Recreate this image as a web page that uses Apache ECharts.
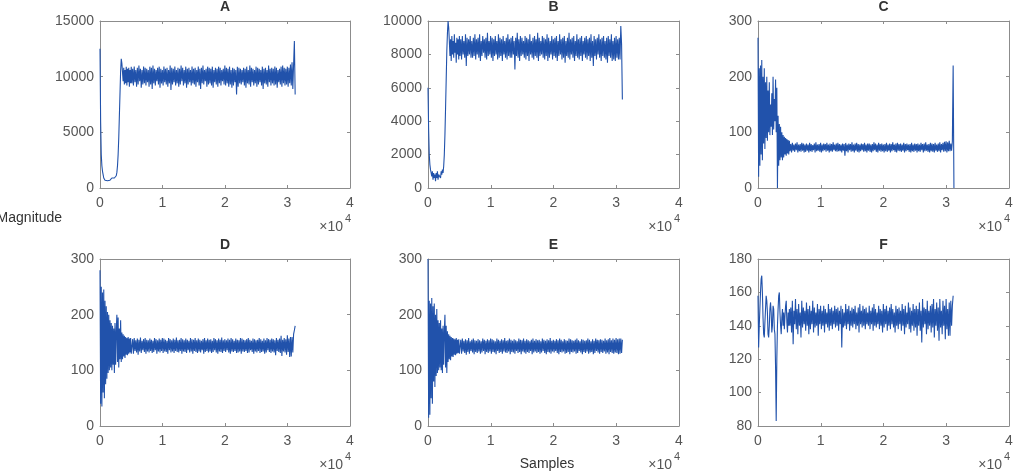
<!DOCTYPE html>
<html>
<head>
<meta charset="utf-8">
<script src="https://cdn.jsdelivr.net/npm/echarts@6/dist/echarts.min.js"></script>
<style>
html,body{margin:0;padding:0;background:#fff;}
#chart{width:1017px;height:471px;}
</style>
</head>
<body>
<div id="chart"></div>
<script>
// ---- data ----
// head: samples 0..5000 every 100
// band: lower/upper envelope of the noisy band, pairs from sample 5100 every 250 (lower, then upper 125 later)
// end: samples after the band, every 125
const panelTitles = ['A', 'B', 'C', 'D', 'E', 'F'];
const xTicks = [0, 1, 2, 3, 4];           // in units of 10^4 samples
const yTicksA = [0, 5000, 10000, 15000];
const yTicksB = [0, 2000, 4000, 6000, 8000, 10000];
const yTicksC = [0, 100, 200, 300];
const yTicksD = [0, 100, 200, 300];
const yTicksE = [0, 100, 200, 300];
const yTicksF = [80, 100, 120, 140, 160, 180];

const aHead = [12500,6000,3000,2000,1500,1200,900,800,700,650,
  750,600,650,800,700,600,700,650,800,900,
  850,950,1000,900,850,1000,1100,1400,2000,3000,
  4500,6500,8500,10500,11600,11200,10400,9600,10800,9300,
  10600,9400,10900,9200,10700,9500,10800,9100,10600,9400,
  10900];
const aLow = [9400,9200,9500,9100,9300,9600,9000,9300,9400,9200,
  9500,9100,9300,8900,9400,9200,9600,9300,9000,9400,
  9200,9500,9300,9100,9400,8800,9300,9500,9200,9400,
  9100,9300,9600,9200,9400,9000,9300,9500,9200,9400,
  9300,9100,9500,9200,8900,9400,9300,9600,9100,9300,
  9400,9200,9000,9500,9300,9100,9400,9200,9600,9300,
  9200,9400,9100,9300,9000,9200,9500,8400,9100,9400,
  9300,9500,9200,9000,9400,9300,9100,9500,9200,9400,
  9100,9300,9500,9200,8900,9400,9300,9100,9500,9200,
  9400,9200,9300,9000,9500,9300,9100,9400,9200,9300,
  9100,9400];
const aHigh = [10700,10900,10600,10800,11000,10700,10600,10900,10800,10700,
  10600,10900,10800,11000,10700,10600,10800,10900,10700,10600,
  10900,10700,10800,10600,11000,10800,10700,10900,10600,10800,
  10700,11000,10800,10600,10900,10700,10800,10600,10900,10700,
  10800,10600,10900,10700,10800,11000,10600,10700,10900,10800,
  10700,10900,10600,10800,10700,10900,10800,10600,10700,11000,
  10800,10700,10900,10600,10800,10700,10600,10900,10800,10700,
  10600,10800,10700,10900,10600,11000,10800,10700,10600,10900,
  10800,10700,10600,10900,10700,10800,10600,11000,10700,10800,
  10700,10900,10800,10600,10700,10900,11000,10800,10700,10900,
  10800,11100];
const aEnd = [9200,11300,8900,11100,13200,8400];

const bHead = [6000,3500,2000,1400,1100,900,700,1000,500,900,
  600,800,400,900,600,1000,500,800,700,900,
  600,1000,800,1100,900,1300,2000,3200,4800,6500,
  8200,9300,10000,9600,8800,7900,8900,7600,9100,8000,
  8800,7800,9200,8100,8700,7500,9000,8000,8900,7700,
  9100];
const bLow = [7900,7700,8000,7800,7300,7900,8000,7800,7800,7900,
  7700,8000,7800,7600,7900,8100,7800,7700,7900,8000,
  7800,7600,7900,8000,7700,7800,7900,7600,8000,7800,
  7700,7900,7800,7800,8000,7100,7900,7800,7600,7900,
  8000,7800,7700,7900,7600,8000,7800,7700,7900,7800,
  7600,7900,8000,7800,7700,7900,7600,7800,8000,7700,
  7900,7800,7600,7900,8000,7700,7800,7500,7900,7800,
  7700,8000,7800,7600,7900,7800,7700,7900,7600,8000,
  7800,7700,7900,7600,7800,7300,7900,7700,8000,7800,
  7600,7900,7800,7700,7500,7900,7800,7600,7700,7600,
  7800,7700];
const bHigh = [8900,9100,8800,9200,9000,8900,9100,8800,9000,9200,
  8900,9000,9200,8800,9100,8900,9000,9300,8800,9100,
  9000,8900,9100,8800,9200,9000,8900,9100,8800,9000,
  9200,8900,9000,9100,8800,9000,9300,8900,9100,9000,
  8800,9100,9000,8900,9200,8800,9000,9100,8900,9300,
  9000,8800,9100,9000,8900,9200,9000,8800,9100,8900,
  9000,9100,8800,9200,8900,9000,9100,8800,9000,9300,
  8900,9000,9100,8800,9200,8900,9000,9100,8800,9000,
  9100,8900,9000,9200,8800,9100,8900,9000,9200,8900,
  9000,9100,8800,9000,9100,8900,9200,8800,9000,9100,
  8900,9000];
const bEnd = [7700,9700,8600,5300];

const cHead = [270,20,215,40,220,60,230,50,200,80,
  215,70,190,90,200,85,175,100,190,95,
  150,110,170,95,200,105,160,120,195,100,
  180,0,130,40,115,50,110,55,100,50,
  95,55,92,60,90,58,88,62,86,60,
  85];
const cLow = [66,64,67,65,68,64,66,65,67,64,
  65,67,64,66,65,68,64,66,67,65,
  64,66,68,65,67,64,66,65,68,66,
  65,66,66,64,67,58,66,64,68,65,
  66,64,67,65,64,66,68,65,66,64,
  67,65,64,66,68,65,64,67,65,66,
  64,66,65,67,64,66,68,65,64,67,
  66,65,67,64,66,68,65,64,66,65,
  67,64,66,65,68,64,66,67,65,64,
  66,65,64,67,65,66,64,68,65,66,
  64,66];
const cHigh = [79,81,78,80,82,78,79,81,80,78,
  80,78,81,79,77,80,82,78,79,81,
  78,80,79,81,78,80,79,82,78,80,
  81,79,78,80,79,81,78,80,79,82,
  78,80,81,79,78,80,79,81,78,80,
  80,78,79,82,80,78,81,79,80,78,
  79,81,78,80,79,82,78,80,81,79,
  80,78,81,79,80,78,79,81,78,80,
  79,80,78,81,79,80,82,78,79,81,
  80,79,81,78,80,82,79,81,83,84,
  82,85];
const cEnd = [66,80,67,84,220,0];

const dHead = [280,40,250,35,240,60,245,50,225,75,
  215,85,205,95,200,100,190,105,185,100,
  180,110,175,95,185,110,170,200,115,195,
  105,175,120,190,115,168,120,165,125,162,
  122,160,128,158,127,160,130,157,132,158,
  130];
const dLow = [133,130,135,132,128,134,131,136,133,130,
  134,132,135,131,133,136,130,134,132,135,
  131,134,133,130,136,132,134,131,135,133,
  132,135,130,134,133,131,136,132,134,130,
  135,133,131,134,132,136,130,133,135,132,
  134,131,133,136,132,130,134,133,131,135,
  133,136,132,130,134,133,135,131,132,134,
  130,134,133,135,131,132,136,133,130,134,
  132,135,131,133,134,130,132,136,133,131,
  134,132,127,135,133,131,126,134,132,128,
  133,124];
const dHigh = [156,158,154,157,155,159,153,156,158,155,
  154,157,155,153,158,156,154,157,155,158,
  157,155,153,158,156,154,157,155,159,154,
  155,158,156,154,157,155,153,158,156,155,
  158,154,157,155,153,156,158,154,157,155,
  156,153,158,156,154,157,155,159,154,156,
  154,157,155,158,156,153,157,155,154,158,
  157,155,154,156,158,155,153,157,156,154,
  155,158,156,153,157,154,158,156,155,157,
  156,154,158,155,157,162,155,158,156,163,
  157,160];
const dEnd = [125,160,132,165,172,180];

const eHead = [300,15,225,20,220,50,230,40,215,80,
  220,70,200,90,210,95,190,100,185,105,
  190,100,175,95,180,110,170,200,105,180,
  95,170,115,165,120,162,118,160,125,158,
  124,157,128,156,127,158,130,155,131,156,
  130];
const eLow = [132,130,134,131,128,133,130,135,132,129,
  133,131,134,130,132,135,129,133,131,134,
  130,133,132,129,135,131,133,130,134,132,
  131,134,129,133,132,130,135,131,133,129,
  134,132,130,133,131,135,129,132,134,131,
  133,130,132,135,131,129,133,132,130,134,
  132,135,131,129,133,132,134,130,131,133,
  129,133,132,134,130,131,135,132,129,133,
  131,134,130,132,133,129,131,135,132,130,
  133,131,134,130,132,129,133,131,130,132,
  131,129];
const eHigh = [155,157,153,156,154,158,152,155,157,154,
  153,156,154,152,157,155,153,156,154,157,
  156,154,152,157,155,153,156,154,158,153,
  154,157,155,153,156,154,152,157,155,154,
  157,153,156,154,152,155,157,153,156,154,
  155,152,157,155,153,156,154,158,153,155,
  153,156,154,157,155,152,156,154,153,157,
  156,154,153,155,157,154,152,156,155,153,
  154,157,155,152,156,153,157,155,154,156,
  155,153,157,154,156,158,154,157,155,158,
  156,157];
const eEnd = [130,157,131,155];

const fHead = [158,127,140,150,160,168,170,160,145,135,
  133,142,150,158,155,148,135,133,140,150,
  154,148,136,140,152,150,138,135,115,83,
  120,140,150,158,160,148,140,135,145,150,
  140,148,138,146,152,155,142,136,148,140,
  150];
const fLow = [140,136,129,141,138,135,140,133,139,141,
  137,140,135,138,141,136,139,140,134,141,
  138,140,136,141,139,137,140,138,141,139,
  140,137,141,127,139,140,138,141,137,140,
  139,141,138,140,136,141,139,140,138,141,
  140,138,141,137,140,139,141,138,140,136,
  139,141,137,140,138,141,139,136,140,138,
  141,137,140,135,139,141,138,136,140,137,
  139,134,140,137,130,139,141,135,138,140,
  136,139,133,140,137,131,139,135,140,132,
  138,134];
const fHigh = [151,155,149,156,150,153,148,155,151,149,
  154,150,152,149,155,151,148,153,150,152,
  149,152,150,148,153,150,151,149,152,150,
  151,149,152,150,148,153,150,152,149,151,
  150,152,148,151,153,149,152,150,151,148,
  152,149,151,153,150,148,152,150,149,153,
  150,152,149,151,153,150,148,152,150,151,
  149,153,150,152,148,154,151,149,153,150,
  152,150,154,149,156,151,150,155,149,152,
  153,156,150,154,151,156,149,155,152,156,
  150,154];
const fEnd = [134,155,140,152,158];

// ---- build ----
const HEAD_STEP = 100, BAND_START = 5100, BAND_STEP = 250, END_STEP = 125;
function build(head, low, high, end) {
  const d = [];
  head.forEach((v, i) => d.push([i * HEAD_STEP, v]));
  low.forEach((v, k) => {
    d.push([BAND_START + k * BAND_STEP, v]);
    d.push([BAND_START + k * BAND_STEP + BAND_STEP / 2, high[k]]);
  });
  const endStart = BAND_START + low.length * BAND_STEP;
  end.forEach((v, j) => d.push([endStart + j * END_STEP, v]));
  return d;
}
const panels = [
  {data: build(aHead, aLow, aHigh, aEnd), ticks: yTicksA},
  {data: build(bHead, bLow, bHigh, bEnd), ticks: yTicksB},
  {data: build(cHead, cLow, cHigh, cEnd), ticks: yTicksC},
  {data: build(dHead, dLow, dHigh, dEnd), ticks: yTicksD},
  {data: build(eHead, eLow, eHigh, eEnd), ticks: yTicksE},
  {data: build(fHead, fLow, fHigh, fEnd), ticks: yTicksF}
];

const FONT = "'Liberation Sans', Arial, Helvetica, sans-serif";
const LINE = '#8c8c8c', TXT = '#555555', BLUE = '#2152ab';
const lefts = [100, 428, 758], widths = [250, 251, 251];
const tops = [21, 259], H = 167;

const grids = [], xAxes = [], yAxes = [], series = [], graphics = [];
panels.forEach((p, i) => {
  const col = i % 3, row = Math.floor(i / 3);
  const L = lefts[col], W = widths[col], T = tops[row];
  grids.push({left: L, top: T, width: W, height: H, containLabel: false});
  const t = p.ticks;
  const yMin = t[0], yMax = t[t.length - 1], yInt = t[1] - t[0];
  const axLine = {show: true, onZero: false, lineStyle: {color: LINE, width: 1}};
  const axTick = {show: true, inside: true, length: 3, lineStyle: {color: LINE}};
  const xBase = {type: 'value', gridIndex: i, min: xTicks[0] * 1e4, max: xTicks[xTicks.length - 1] * 1e4,
    interval: 1e4, axisLine: axLine, axisTick: axTick, splitLine: {show: false}};
  xAxes.push(Object.assign({}, xBase, {position: 'bottom',
    axisLabel: {show: true, margin: 8, color: TXT, fontSize: 14, fontFamily: FONT,
      formatter: v => String(v / 1e4)}}));
  xAxes.push(Object.assign({}, xBase, {position: 'top', axisLabel: {show: false}}));
  const yBase = {type: 'value', gridIndex: i, min: yMin, max: yMax, interval: yInt,
    axisLine: axLine, axisTick: axTick, splitLine: {show: false}};
  yAxes.push(Object.assign({}, yBase, {position: 'left',
    axisLabel: {show: true, margin: 6, color: TXT, fontSize: 14, fontFamily: FONT,
      formatter: v => String(v)}}));
  yAxes.push(Object.assign({}, yBase, {position: 'right', axisLabel: {show: false}}));
  series.push({type: 'line', xAxisIndex: 2 * i, yAxisIndex: 2 * i, data: p.data,
    showSymbol: false, symbol: 'none', sampling: null, animation: false,
    lineStyle: {color: BLUE, width: 1.1}, z: 1});

  // panel title
  graphics.push({type: 'text', x: L + W / 2, y: T - 14, silent: true,
    style: {text: panelTitles[i], fill: '#333', font: 'bold 14px ' + FONT,
      align: 'center', textAlign: 'center', verticalAlign: 'middle', textVerticalAlign: 'middle'}});
  // x10^4 multiplier
  graphics.push({type: 'text', x: L + W - 7, y: T + H + 39, silent: true,
    style: {text: '\u00d710', fill: TXT, font: '14px ' + FONT,
      align: 'right', textAlign: 'right', verticalAlign: 'middle', textVerticalAlign: 'middle'}});
  graphics.push({type: 'text', x: L + W + 1, y: T + H + 31, silent: true,
    style: {text: '4', fill: TXT, font: '11px ' + FONT,
      align: 'right', textAlign: 'right', verticalAlign: 'middle', textVerticalAlign: 'middle'}});
});

graphics.push({type: 'text', x: 62, y: 218, silent: true,
  style: {text: 'Magnitude', fill: '#333', font: '14px ' + FONT,
    align: 'right', textAlign: 'right', verticalAlign: 'middle', textVerticalAlign: 'middle'}});
graphics.push({type: 'text', x: 547, y: 464, silent: true,
  style: {text: 'Samples', fill: '#333', font: '14px ' + FONT,
    align: 'center', textAlign: 'center', verticalAlign: 'middle', textVerticalAlign: 'middle'}});

const chart = echarts.init(document.getElementById('chart'), null, {renderer: 'canvas'});
chart.setOption({
  animation: false,
  backgroundColor: '#ffffff',
  grid: grids,
  xAxis: xAxes,
  yAxis: yAxes,
  series: series,
  graphic: graphics
});
</script>
</body>
</html>
